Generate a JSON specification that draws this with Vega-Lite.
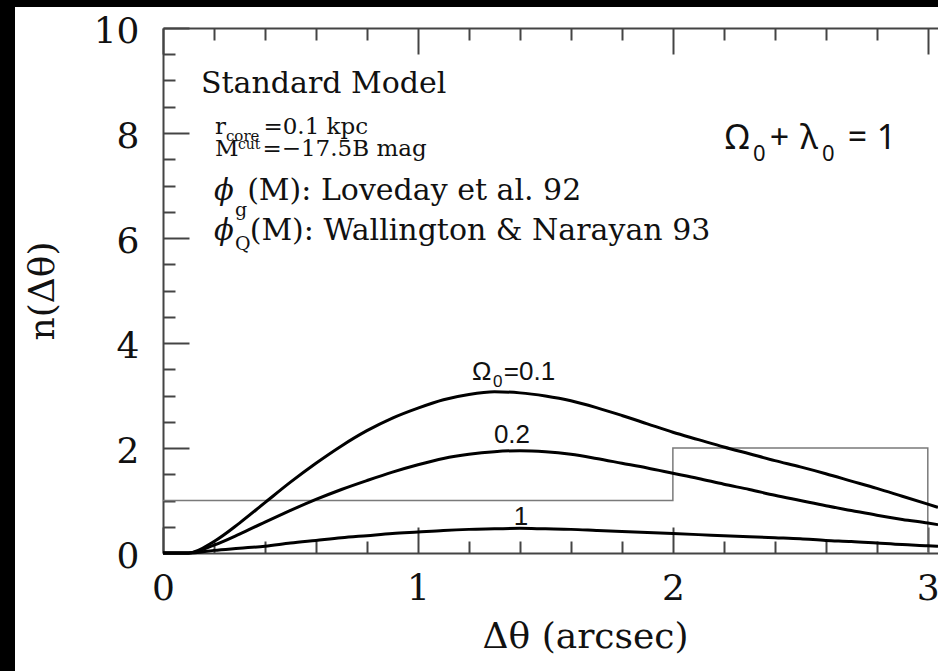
{
  "$schema": "https://vega.github.io/schema/vega-lite/v6.json",
  "width": 923,
  "height": 664,
  "autosize": {"type": "none"},
  "padding": {"left": 15, "top": 7, "right": 0, "bottom": 0},
  "background": "black",
  "config": {
    "view": {"stroke": null, "fill": "white"},
    "axis": {
      "grid": false,
      "domainColor": "#444",
      "tickColor": "#444",
      "domainWidth": 2,
      "tickWidth": 2,
      "labelColor": "#111",
      "titleColor": "#111",
      "labelFont": "DejaVu Serif",
      "titleFont": "DejaVu Serif",
      "labelFontSize": 36,
      "titleFontSize": 36,
      "titleFontWeight": "normal",
      "labelFlush": false,
      "labelOverlap": false,
      "labelBound": false
    }
  },
  "datasets": {
    "hist": [
      {"i": 0, "x": 0, "y": 1},
      {"i": 1, "x": 2, "y": 1},
      {"i": 2, "x": 2, "y": 2},
      {"i": 3, "x": 3, "y": 2},
      {"i": 4, "x": 3, "y": 0}
    ],
    "curves": [
      {"s": "0.1", "x": 0, "y": 0}, {"s": "0.1", "x": 0.1, "y": 0}, {"s": "0.1", "x": 0.2, "y": 0.22}, {"s": "0.1", "x": 0.3, "y": 0.57}, {"s": "0.1", "x": 0.4, "y": 0.96}, {"s": "0.1", "x": 0.5, "y": 1.35}, {"s": "0.1", "x": 0.6, "y": 1.71}, {"s": "0.1", "x": 0.7, "y": 2.04}, {"s": "0.1", "x": 0.8, "y": 2.33}, {"s": "0.1", "x": 0.9, "y": 2.57}, {"s": "0.1", "x": 1.0, "y": 2.76}, {"s": "0.1", "x": 1.1, "y": 2.92}, {"s": "0.1", "x": 1.2, "y": 3.02}, {"s": "0.1", "x": 1.3, "y": 3.07}, {"s": "0.1", "x": 1.4, "y": 3.05}, {"s": "0.1", "x": 1.5, "y": 2.99}, {"s": "0.1", "x": 1.6, "y": 2.9}, {"s": "0.1", "x": 1.7, "y": 2.77}, {"s": "0.1", "x": 1.8, "y": 2.62}, {"s": "0.1", "x": 1.9, "y": 2.46}, {"s": "0.1", "x": 2.0, "y": 2.3}, {"s": "0.1", "x": 2.1, "y": 2.16}, {"s": "0.1", "x": 2.2, "y": 2.02}, {"s": "0.1", "x": 2.3, "y": 1.89}, {"s": "0.1", "x": 2.4, "y": 1.76}, {"s": "0.1", "x": 2.5, "y": 1.64}, {"s": "0.1", "x": 2.6, "y": 1.51}, {"s": "0.1", "x": 2.7, "y": 1.37}, {"s": "0.1", "x": 2.8, "y": 1.23}, {"s": "0.1", "x": 2.9, "y": 1.08}, {"s": "0.1", "x": 3.0, "y": 0.93}, {"s": "0.1", "x": 3.04, "y": 0.87},
      {"s": "0.2", "x": 0, "y": 0}, {"s": "0.2", "x": 0.1, "y": 0}, {"s": "0.2", "x": 0.2, "y": 0.15}, {"s": "0.2", "x": 0.3, "y": 0.36}, {"s": "0.2", "x": 0.4, "y": 0.59}, {"s": "0.2", "x": 0.5, "y": 0.81}, {"s": "0.2", "x": 0.6, "y": 1.02}, {"s": "0.2", "x": 0.7, "y": 1.21}, {"s": "0.2", "x": 0.8, "y": 1.38}, {"s": "0.2", "x": 0.9, "y": 1.54}, {"s": "0.2", "x": 1.0, "y": 1.68}, {"s": "0.2", "x": 1.1, "y": 1.8}, {"s": "0.2", "x": 1.2, "y": 1.88}, {"s": "0.2", "x": 1.3, "y": 1.93}, {"s": "0.2", "x": 1.4, "y": 1.95}, {"s": "0.2", "x": 1.5, "y": 1.93}, {"s": "0.2", "x": 1.6, "y": 1.88}, {"s": "0.2", "x": 1.7, "y": 1.8}, {"s": "0.2", "x": 1.8, "y": 1.71}, {"s": "0.2", "x": 1.9, "y": 1.62}, {"s": "0.2", "x": 2.0, "y": 1.52}, {"s": "0.2", "x": 2.1, "y": 1.42}, {"s": "0.2", "x": 2.2, "y": 1.31}, {"s": "0.2", "x": 2.3, "y": 1.21}, {"s": "0.2", "x": 2.4, "y": 1.1}, {"s": "0.2", "x": 2.5, "y": 1.0}, {"s": "0.2", "x": 2.6, "y": 0.9}, {"s": "0.2", "x": 2.7, "y": 0.81}, {"s": "0.2", "x": 2.8, "y": 0.72}, {"s": "0.2", "x": 2.9, "y": 0.64}, {"s": "0.2", "x": 3.0, "y": 0.57}, {"s": "0.2", "x": 3.04, "y": 0.54},
      {"s": "1", "x": 0, "y": 0}, {"s": "1", "x": 0.1, "y": 0}, {"s": "1", "x": 0.2, "y": 0.05}, {"s": "1", "x": 0.3, "y": 0.09}, {"s": "1", "x": 0.4, "y": 0.13}, {"s": "1", "x": 0.5, "y": 0.19}, {"s": "1", "x": 0.6, "y": 0.24}, {"s": "1", "x": 0.7, "y": 0.29}, {"s": "1", "x": 0.8, "y": 0.33}, {"s": "1", "x": 0.9, "y": 0.37}, {"s": "1", "x": 1.0, "y": 0.4}, {"s": "1", "x": 1.1, "y": 0.43}, {"s": "1", "x": 1.2, "y": 0.45}, {"s": "1", "x": 1.3, "y": 0.46}, {"s": "1", "x": 1.4, "y": 0.47}, {"s": "1", "x": 1.5, "y": 0.46}, {"s": "1", "x": 1.6, "y": 0.45}, {"s": "1", "x": 1.7, "y": 0.43}, {"s": "1", "x": 1.8, "y": 0.41}, {"s": "1", "x": 1.9, "y": 0.39}, {"s": "1", "x": 2.0, "y": 0.37}, {"s": "1", "x": 2.1, "y": 0.35}, {"s": "1", "x": 2.2, "y": 0.33}, {"s": "1", "x": 2.3, "y": 0.31}, {"s": "1", "x": 2.4, "y": 0.29}, {"s": "1", "x": 2.5, "y": 0.27}, {"s": "1", "x": 2.6, "y": 0.24}, {"s": "1", "x": 2.7, "y": 0.22}, {"s": "1", "x": 2.8, "y": 0.19}, {"s": "1", "x": 2.9, "y": 0.16}, {"s": "1", "x": 3.0, "y": 0.14}, {"s": "1", "x": 3.04, "y": 0.13}
    ],
    "ann": [
      {"k": "serif30", "x": 0.149, "y": 8.76, "t": "Standard Model"},
      {"k": "serif30", "x": 0.33, "y": 6.72, "t": "(M): Loveday et al. 92"},
      {"k": "serif30", "x": 0.34, "y": 5.96, "t": "(M): Wallington & Narayan 93"},
      {"k": "serif23", "x": 0.204, "y": 7.98, "t": "r"},
      {"k": "serif23", "x": 0.394, "y": 7.98, "t": "=0.1 kpc"},
      {"k": "serif23", "x": 0.204, "y": 7.56, "t": "M"},
      {"k": "serif23", "x": 0.39, "y": 7.56, "t": "=−17.5B mag"},
      {"k": "serifsub", "x": 0.247, "y": 7.85, "t": "core"},
      {"k": "serifsup", "x": 0.294, "y": 7.69, "t": "cut"},
      {"k": "serifsub2", "x": 0.282, "y": 6.42, "t": "g"},
      {"k": "serifsub2", "x": 0.282, "y": 5.77, "t": "Q"},
      {"k": "phi", "x": 0.2, "y": 6.72, "t": "ϕ"},
      {"k": "phi", "x": 0.2, "y": 5.96, "t": "ϕ"},
      {"k": "sansbig", "x": 2.204, "y": 7.695, "t": "Ω"},
      {"k": "sansbig", "x": 2.38, "y": 7.695, "t": "+"},
      {"k": "sansbig", "x": 2.5, "y": 7.695, "t": "λ"},
      {"k": "sansbig", "x": 2.686, "y": 7.695, "t": "="},
      {"k": "sansbig", "x": 2.8, "y": 7.695, "t": "1"},
      {"k": "sansbigsub", "x": 2.314, "y": 7.47, "t": "0"},
      {"k": "sansbigsub", "x": 2.585, "y": 7.47, "t": "0"},
      {"k": "sans", "x": 1.212, "y": 3.295, "t": "Ω"},
      {"k": "sans", "x": 1.337, "y": 3.295, "t": "=0.1"},
      {"k": "sans", "x": 1.298, "y": 2.095, "t": "0.2"},
      {"k": "sans", "x": 1.376, "y": 0.533, "t": "1"},
      {"k": "sanssub", "x": 1.294, "y": 3.16, "t": "0"}
    ]
  },
  "layer": [
    {
      "data": {"name": "hist"},
      "mark": {"type": "line", "color": "#7a7a7a", "strokeWidth": 1.5, "clip": true},
      "encoding": {
        "x": {"field": "x", "type": "quantitative", "scale": {"domain": [0, 3.04], "range": [148, 923], "nice": false, "zero": false},
              "axis": {"orient": "bottom", "offset": -118, "values": [0, 1, 2, 3], "tickSize": -26, "labelPadding": 44, "format": "d", "title": "Δθ (arcsec)", "titlePadding": 13, "titleX": 570}},
        "y": {"field": "y", "type": "quantitative", "scale": {"domain": [0, 10], "range": [546, 21], "nice": false, "zero": false},
              "axis": {"orient": "left", "offset": -148, "values": [0, 2, 4, 6, 8, 10], "tickSize": -26, "labelPadding": 50, "labelOffset": 3, "format": "d", "title": "n(Δθ)", "titlePadding": 32}},
        "order": {"field": "i", "type": "quantitative"}
      }
    },
    {
      "data": {"name": "curves"},
      "mark": {"type": "line", "color": "#000", "strokeWidth": 3, "interpolate": "monotone", "clip": true},
      "encoding": {
        "x": {"field": "x", "type": "quantitative",
              "axis": {"orient": "bottom", "offset": -118, "values": [0.2, 0.4, 0.6, 0.8, 1.2, 1.4, 1.6, 1.8, 2.2, 2.4, 2.6, 2.8], "tickSize": -12, "labels": false, "domain": false, "title": null}},
        "y": {"field": "y", "type": "quantitative",
              "axis": {"orient": "left", "offset": -148, "values": [0.5, 1, 1.5, 2.5, 3, 3.5, 4.5, 5, 5.5, 6.5, 7, 7.5, 8.5, 9, 9.5], "tickSize": -12, "labels": false, "domain": false, "title": null}},
        "detail": {"field": "s", "type": "nominal"}
      }
    },
    {
      "data": {"name": "ann"},
      "transform": [{"filter": "datum.k == 'serif30'"}],
      "mark": {"type": "text", "font": "DejaVu Serif", "fontSize": 30, "align": "left", "baseline": "alphabetic", "color": "#111"},
      "encoding": {
        "x": {"field": "x", "type": "quantitative",
              "axis": {"orient": "top", "offset": -21, "values": [0, 1, 2, 3], "tickSize": -26, "labels": false, "title": null}},
        "y": {"field": "y", "type": "quantitative", "axis": null},
        "text": {"field": "t"}
      }
    },
    {
      "data": {"name": "ann"},
      "transform": [{"filter": "datum.k == 'serif23'"}],
      "mark": {"type": "text", "font": "DejaVu Serif", "fontSize": 23, "align": "left", "baseline": "alphabetic", "color": "#111"},
      "encoding": {
        "x": {"field": "x", "type": "quantitative",
              "axis": {"orient": "top", "offset": -21, "values": [0.2, 0.4, 0.6, 0.8, 1.2, 1.4, 1.6, 1.8, 2.2, 2.4, 2.6, 2.8], "tickSize": -12, "labels": false, "domain": false, "title": null}},
        "y": {"field": "y", "type": "quantitative", "axis": null},
        "text": {"field": "t"}
      }
    },
    {
      "data": {"name": "ann"},
      "transform": [{"filter": "datum.k == 'serifsub'"}],
      "mark": {"type": "text", "font": "DejaVu Serif", "fontSize": 15, "align": "left", "baseline": "alphabetic", "color": "#111"},
      "encoding": {
        "x": {"field": "x", "type": "quantitative", "axis": null},
        "y": {"field": "y", "type": "quantitative", "axis": null},
        "text": {"field": "t"}
      }
    },
    {
      "data": {"name": "ann"},
      "transform": [{"filter": "datum.k == 'serifsup'"}],
      "mark": {"type": "text", "font": "DejaVu Serif", "fontSize": 14, "align": "left", "baseline": "alphabetic", "color": "#111"},
      "encoding": {
        "x": {"field": "x", "type": "quantitative", "axis": null},
        "y": {"field": "y", "type": "quantitative", "axis": null},
        "text": {"field": "t"}
      }
    },
    {
      "data": {"name": "ann"},
      "transform": [{"filter": "datum.k == 'serifsub2'"}],
      "mark": {"type": "text", "font": "DejaVu Serif", "fontSize": 19, "align": "left", "baseline": "alphabetic", "color": "#111"},
      "encoding": {
        "x": {"field": "x", "type": "quantitative", "axis": null},
        "y": {"field": "y", "type": "quantitative", "axis": null},
        "text": {"field": "t"}
      }
    },
    {
      "data": {"name": "ann"},
      "transform": [{"filter": "datum.k == 'phi'"}],
      "mark": {"type": "text", "font": "DejaVu Serif", "fontSize": 29, "fontStyle": "italic", "align": "left", "baseline": "alphabetic", "color": "#111"},
      "encoding": {
        "x": {"field": "x", "type": "quantitative", "axis": null},
        "y": {"field": "y", "type": "quantitative", "axis": null},
        "text": {"field": "t"}
      }
    },
    {
      "data": {"name": "ann"},
      "transform": [{"filter": "datum.k == 'sansbig'"}],
      "mark": {"type": "text", "font": "Noto Sans", "fontSize": 34, "align": "left", "baseline": "alphabetic", "color": "#111"},
      "encoding": {
        "x": {"field": "x", "type": "quantitative", "axis": null},
        "y": {"field": "y", "type": "quantitative", "axis": null},
        "text": {"field": "t"}
      }
    },
    {
      "data": {"name": "ann"},
      "transform": [{"filter": "datum.k == 'sansbigsub'"}],
      "mark": {"type": "text", "font": "Noto Sans", "fontSize": 22, "align": "left", "baseline": "alphabetic", "color": "#111"},
      "encoding": {
        "x": {"field": "x", "type": "quantitative", "axis": null},
        "y": {"field": "y", "type": "quantitative", "axis": null},
        "text": {"field": "t"}
      }
    },
    {
      "data": {"name": "ann"},
      "transform": [{"filter": "datum.k == 'sans'"}],
      "mark": {"type": "text", "font": "Liberation Sans", "fontSize": 26, "align": "left", "baseline": "alphabetic", "color": "#111"},
      "encoding": {
        "x": {"field": "x", "type": "quantitative", "axis": null},
        "y": {"field": "y", "type": "quantitative", "axis": null},
        "text": {"field": "t"}
      }
    },
    {
      "data": {"name": "ann"},
      "transform": [{"filter": "datum.k == 'sanssub'"}],
      "mark": {"type": "text", "font": "Liberation Sans", "fontSize": 17, "align": "left", "baseline": "alphabetic", "color": "#111"},
      "encoding": {
        "x": {"field": "x", "type": "quantitative", "axis": null},
        "y": {"field": "y", "type": "quantitative", "axis": null},
        "text": {"field": "t"}
      }
    }
  ],
  "resolve": {"axis": {"x": "independent", "y": "independent"}}
}
